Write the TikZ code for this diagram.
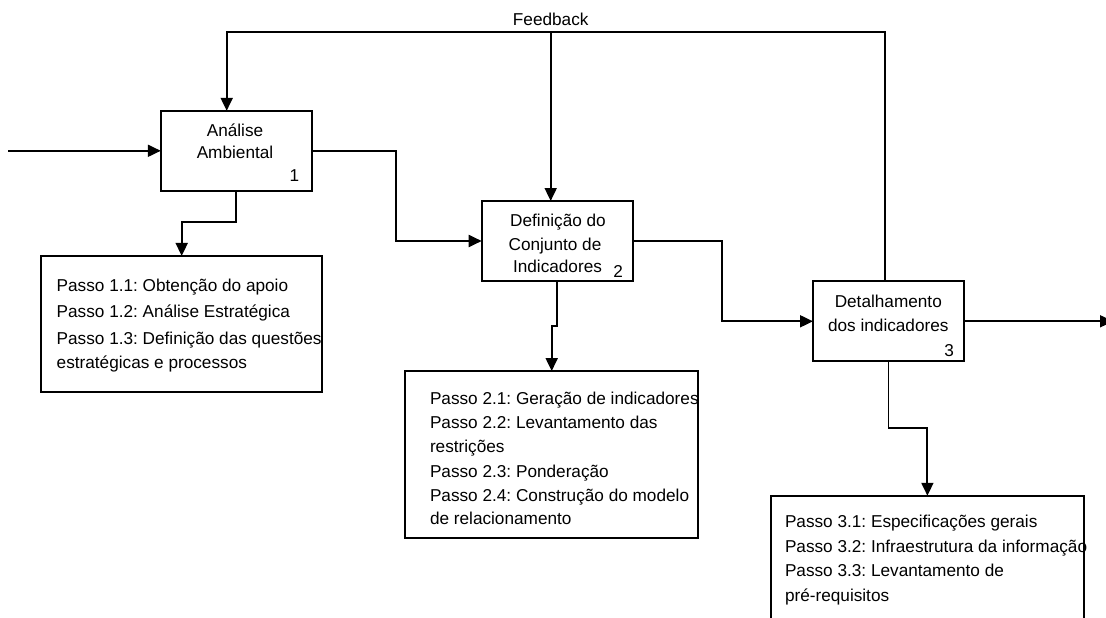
\documentclass[tikz,border=0pt]{standalone}
\usepackage{fontspec}
\setmainfont{Liberation Sans}
\usetikzlibrary{arrows.meta}
\frenchspacing
\begin{document}
\begin{tikzpicture}[x=1pt,y=-1pt,
  every node/.style={inner sep=0pt, outer sep=0pt},
  txt/.style={font=\fontsize{17.2}{22}\selectfont},
  box/.style={draw, line width=2pt, minimum width=151pt, minimum height=80pt},
  stepbox/.style={draw, line width=2pt},
  link/.style={line width=1.9pt},
  flow/.style={link, -{Triangle[length=13pt,width=12pt]}},
]
\useasboundingbox (0,0) rectangle (1106,618);
\clip (0,0) rectangle (1106,618);
\fill[white] (0,0) rectangle (1106,618);

% activity boxes
\node[box] (b1) at (236.3,150.8) {};
\node[box] (b2) at (557.2,241) {};
\node[box] (b3) at (888.5,321.3) {};

% step lists below each activity
\node[stepbox, minimum width=281.3pt, minimum height=135.7pt] (s1) at (181.7,323.8) {};
\node[stepbox, minimum width=293.3pt, minimum height=167.3pt] (s2) at (551.7,454.7) {};
\node[stepbox, minimum width=313.3pt, minimum height=144.3pt] (s3) at (927.4,567.9) {};

% activity titles and numbers
\node[txt, anchor=base] (t1a) at (235,136) {Análise};
\node[txt, anchor=base] (t1b) at (235,158) {Ambiental};
\node[txt, anchor=base east] (n1) at (299.3,181) {1};

\node[txt, anchor=base] (t2a) at (558,226) {Definição do};
\node[txt, anchor=base] (t2b) at (555,250) {Conjunto de};
\node[txt, anchor=base] (t2c) at (557.5,272.7) {Indicadores};
\node[txt, anchor=base east] (n2) at (623,277.3) {2};

\node[txt, anchor=base] (t3a) at (888.3,307.7) {Detalhamento};
\node[txt, anchor=base] (t3b) at (888.3,331) {dos indicadores};
\node[txt, anchor=base east] (n3) at (954,356.7) {3};

% step texts
\node[txt, anchor=base west] (p11) at (56.7,291) {Passo 1.1: Obtenção do apoio};
\node[txt, anchor=base west] (p12) at (56.7,317) {Passo 1.2: Análise Estratégica};
\node[txt, anchor=base west] (p13) at (56.7,344) {Passo 1.3: Definição das questões};
\node[txt, anchor=base west] (p13b) at (56.7,368) {estratégicas e processos};

\node[txt, anchor=base west] (p21) at (430,404) {Passo 2.1: Geração de indicadores};
\node[txt, anchor=base west] (p22) at (430,428.5) {Passo 2.2: Levantamento das};
\node[txt, anchor=base west] (p22b) at (430,452.5) {restrições};
\node[txt, anchor=base west] (p23) at (430,477) {Passo 2.3: Ponderação};
\node[txt, anchor=base west] (p24) at (430,501.5) {Passo 2.4: Construção do modelo};
\node[txt, anchor=base west] (p24b) at (430,524.5) {de relacionamento};

\node[txt, anchor=base west] (p31) at (785,527.7) {Passo 3.1: Especificações gerais};
\node[txt, anchor=base west] (p32) at (785,552.5) {Passo 3.2: Infraestrutura da informação};
\node[txt, anchor=base west] (p33) at (785,576.7) {Passo 3.3: Levantamento de};
\node[txt, anchor=base west] (p33b) at (785,601) {pré-requisitos};

% main flow
\coordinate (in) at (8.3,150.8);
\coordinate (out) at (1113,321.3);
\draw[flow] (in) -- (b1.west);
\draw[flow] (b1.east) -- ++(84,0) |- (b2.west);
\draw[flow] (b2.east) -- ++(89,0) |- (b3.west);
\draw[flow] (b3.east) -- (out);

% activities to their steps
\draw[flow] (b1.south) -- ++(0,31) -| (s1.north);
\draw[flow] (b2.south) -- ++(0,44.7) -| (s2.north);
\draw[flow] (b3.south) -- ++(0,67) -| (s3.north);

% feedback loop
\coordinate (fbR) at (885,31.7);
\coordinate (fbL) at (226.7,31.7);
\coordinate (fbM) at (550.7,31.7);
\draw[flow] (fbR |- b3.north) -- (fbR) -- (fbL) -- (fbL |- b1.north);
\draw[flow] (fbM) -- (fbM |- b2.north);
\node[txt, anchor=base] (fb) at (550.7,26) {Feedback};
\end{tikzpicture}
\end{document}
